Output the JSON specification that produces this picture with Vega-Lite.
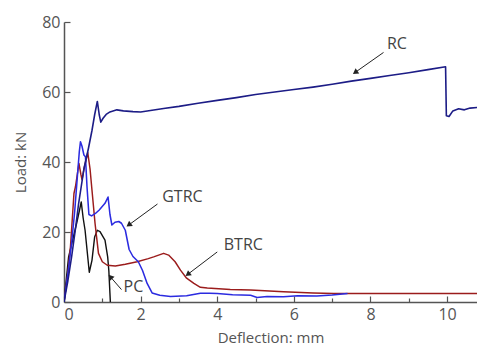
{
  "$schema": "https://vega.github.io/schema/vega-lite/v6.json",
  "width": 413,
  "height": 280,
  "autosize": "none",
  "padding": {"left": 64, "top": 22, "right": 0, "bottom": 48},
  "background": "white",
  "config": {
    "view": {"stroke": null},
    "font": "Open Sans",
    "axis": {
      "labelFont": "Open Sans",
      "titleFont": "Open Sans",
      "labelFontSize": 16,
      "titleFontSize": 15,
      "titleFontWeight": "normal",
      "labelColor": "#555555",
      "titleColor": "#555555",
      "domainColor": "#555555",
      "tickColor": "#555555",
      "domainWidth": 1.5,
      "tickWidth": 1.2,
      "grid": false
    }
  },
  "datasets": {
    "curves": [
      {"series": "PC", "x": 0, "y": 0},
      {"series": "PC", "x": 0.12, "y": 12.9},
      {"series": "PC", "x": 0.33, "y": 22.5},
      {"series": "PC", "x": 0.4, "y": 26},
      {"series": "PC", "x": 0.45, "y": 28.6},
      {"series": "PC", "x": 0.5, "y": 24},
      {"series": "PC", "x": 0.55, "y": 20.5},
      {"series": "PC", "x": 0.66, "y": 8.5},
      {"series": "PC", "x": 0.73, "y": 11.9},
      {"series": "PC", "x": 0.8, "y": 18.6},
      {"series": "PC", "x": 0.87, "y": 20.5},
      {"series": "PC", "x": 0.94, "y": 20.1},
      {"series": "PC", "x": 1.07, "y": 17.7},
      {"series": "PC", "x": 1.14, "y": 12.9},
      {"series": "PC", "x": 1.17, "y": 9},
      {"series": "PC", "x": 1.21, "y": 0},

      {"series": "BTRC", "x": 0, "y": 0},
      {"series": "BTRC", "x": 0.1, "y": 8},
      {"series": "BTRC", "x": 0.17, "y": 16},
      {"series": "BTRC", "x": 0.26, "y": 31},
      {"series": "BTRC", "x": 0.3, "y": 33},
      {"series": "BTRC", "x": 0.39, "y": 39.6},
      {"series": "BTRC", "x": 0.44, "y": 36.5},
      {"series": "BTRC", "x": 0.47, "y": 35},
      {"series": "BTRC", "x": 0.53, "y": 38.5},
      {"series": "BTRC", "x": 0.62, "y": 42.7},
      {"series": "BTRC", "x": 0.68, "y": 38},
      {"series": "BTRC", "x": 0.73, "y": 32},
      {"series": "BTRC", "x": 0.81, "y": 22.5},
      {"series": "BTRC", "x": 0.9, "y": 13.9},
      {"series": "BTRC", "x": 1.0, "y": 11.5},
      {"series": "BTRC", "x": 1.13, "y": 10.5},
      {"series": "BTRC", "x": 1.34, "y": 10.3},
      {"series": "BTRC", "x": 1.6, "y": 10.8},
      {"series": "BTRC", "x": 1.91, "y": 11.5},
      {"series": "BTRC", "x": 2.2, "y": 12.4},
      {"series": "BTRC", "x": 2.34, "y": 12.9},
      {"series": "BTRC", "x": 2.6, "y": 13.9},
      {"series": "BTRC", "x": 2.73, "y": 13.4},
      {"series": "BTRC", "x": 2.9, "y": 11.5},
      {"series": "BTRC", "x": 3.04, "y": 9.1},
      {"series": "BTRC", "x": 3.2, "y": 6.8},
      {"series": "BTRC", "x": 3.39, "y": 5.3},
      {"series": "BTRC", "x": 3.56, "y": 4.2},
      {"series": "BTRC", "x": 3.74, "y": 4.0},
      {"series": "BTRC", "x": 4.34, "y": 3.6},
      {"series": "BTRC", "x": 4.87, "y": 3.4},
      {"series": "BTRC", "x": 5.73, "y": 2.9},
      {"series": "BTRC", "x": 6.5, "y": 2.6},
      {"series": "BTRC", "x": 7.04, "y": 2.4},
      {"series": "BTRC", "x": 8.34, "y": 2.4},
      {"series": "BTRC", "x": 9.5, "y": 2.4},
      {"series": "BTRC", "x": 10.8, "y": 2.4},

      {"series": "GTRC", "x": 0, "y": 0},
      {"series": "GTRC", "x": 0.1, "y": 8},
      {"series": "GTRC", "x": 0.2, "y": 17},
      {"series": "GTRC", "x": 0.28, "y": 26},
      {"series": "GTRC", "x": 0.35, "y": 36},
      {"series": "GTRC", "x": 0.4, "y": 43},
      {"series": "GTRC", "x": 0.43, "y": 45.8},
      {"series": "GTRC", "x": 0.47, "y": 44.5},
      {"series": "GTRC", "x": 0.52, "y": 42},
      {"series": "GTRC", "x": 0.56, "y": 41.5},
      {"series": "GTRC", "x": 0.6, "y": 33},
      {"series": "GTRC", "x": 0.65, "y": 25},
      {"series": "GTRC", "x": 0.72, "y": 24.6},
      {"series": "GTRC", "x": 0.82, "y": 25.3},
      {"series": "GTRC", "x": 0.92, "y": 26.3},
      {"series": "GTRC", "x": 1.07, "y": 28.2},
      {"series": "GTRC", "x": 1.15, "y": 30},
      {"series": "GTRC", "x": 1.2, "y": 25},
      {"series": "GTRC", "x": 1.25, "y": 22},
      {"series": "GTRC", "x": 1.33, "y": 22.8},
      {"series": "GTRC", "x": 1.43, "y": 23},
      {"series": "GTRC", "x": 1.5, "y": 22.5},
      {"series": "GTRC", "x": 1.6, "y": 20.5},
      {"series": "GTRC", "x": 1.7, "y": 15},
      {"series": "GTRC", "x": 1.8, "y": 13},
      {"series": "GTRC", "x": 1.94, "y": 11.5},
      {"series": "GTRC", "x": 2.05, "y": 9},
      {"series": "GTRC", "x": 2.17, "y": 5.3},
      {"series": "GTRC", "x": 2.3, "y": 2.6},
      {"series": "GTRC", "x": 2.5, "y": 1.9},
      {"series": "GTRC", "x": 2.78, "y": 1.6},
      {"series": "GTRC", "x": 3.2, "y": 1.8},
      {"series": "GTRC", "x": 3.56, "y": 2.5},
      {"series": "GTRC", "x": 3.8, "y": 2.5},
      {"series": "GTRC", "x": 4.0, "y": 2.4},
      {"series": "GTRC", "x": 4.4, "y": 2.1},
      {"series": "GTRC", "x": 4.87, "y": 1.9},
      {"series": "GTRC", "x": 5.04, "y": 1.3},
      {"series": "GTRC", "x": 5.3, "y": 1.6},
      {"series": "GTRC", "x": 5.73, "y": 1.5},
      {"series": "GTRC", "x": 6.1, "y": 1.8},
      {"series": "GTRC", "x": 6.6, "y": 1.7},
      {"series": "GTRC", "x": 7.0, "y": 2.0},
      {"series": "GTRC", "x": 7.4, "y": 2.4},

      {"series": "RC", "x": 0, "y": 0},
      {"series": "RC", "x": 0.1, "y": 6},
      {"series": "RC", "x": 0.2, "y": 13},
      {"series": "RC", "x": 0.3, "y": 21},
      {"series": "RC", "x": 0.38, "y": 28},
      {"series": "RC", "x": 0.45, "y": 33},
      {"series": "RC", "x": 0.52, "y": 38},
      {"series": "RC", "x": 0.64, "y": 44},
      {"series": "RC", "x": 0.73, "y": 49},
      {"series": "RC", "x": 0.8, "y": 53.5},
      {"series": "RC", "x": 0.87, "y": 57.3},
      {"series": "RC", "x": 0.92, "y": 53.5},
      {"series": "RC", "x": 0.96, "y": 51.4},
      {"series": "RC", "x": 1.02, "y": 52.5},
      {"series": "RC", "x": 1.1, "y": 53.6},
      {"series": "RC", "x": 1.2, "y": 54.3},
      {"series": "RC", "x": 1.38, "y": 54.9},
      {"series": "RC", "x": 1.55, "y": 54.6},
      {"series": "RC", "x": 1.8, "y": 54.4},
      {"series": "RC", "x": 2.0, "y": 54.3},
      {"series": "RC", "x": 2.3, "y": 54.8},
      {"series": "RC", "x": 2.6, "y": 55.3},
      {"series": "RC", "x": 3.0, "y": 55.9},
      {"series": "RC", "x": 3.5, "y": 56.8},
      {"series": "RC", "x": 4.0, "y": 57.6},
      {"series": "RC", "x": 4.5, "y": 58.4},
      {"series": "RC", "x": 5.0, "y": 59.3},
      {"series": "RC", "x": 5.5, "y": 60.0},
      {"series": "RC", "x": 6.0, "y": 60.7},
      {"series": "RC", "x": 6.5, "y": 61.4},
      {"series": "RC", "x": 7.0, "y": 62.2},
      {"series": "RC", "x": 7.5, "y": 63.1},
      {"series": "RC", "x": 8.0, "y": 63.9},
      {"series": "RC", "x": 8.5, "y": 64.7},
      {"series": "RC", "x": 9.0, "y": 65.5},
      {"series": "RC", "x": 9.5, "y": 66.4},
      {"series": "RC", "x": 9.96, "y": 67.2},
      {"series": "RC", "x": 9.98, "y": 53.2},
      {"series": "RC", "x": 10.05, "y": 53.0},
      {"series": "RC", "x": 10.15, "y": 54.6},
      {"series": "RC", "x": 10.3, "y": 55.2},
      {"series": "RC", "x": 10.45, "y": 54.9},
      {"series": "RC", "x": 10.6, "y": 55.4},
      {"series": "RC", "x": 10.8, "y": 55.6}
    ],
    "ann": [
      {"label": "RC", "tx": 8.69, "ty": 73.6, "x1": 8.34, "y1": 71.3, "x2": 7.6, "y2": 65.6},
      {"label": "GTRC", "tx": 3.09, "ty": 30.1, "x1": 2.44, "y1": 28.0, "x2": 1.69, "y2": 22.0},
      {"label": "BTRC", "tx": 4.68, "ty": 16.2, "x1": 4.0, "y1": 14.3, "x2": 3.23, "y2": 7.9},
      {"label": "PC", "tx": 1.81, "ty": 4.2, "x1": 1.5, "y1": 3.55, "x2": 1.21, "y2": 7.2}
    ]
  },
  "layer": [
    {
      "data": {"name": "curves"},
      "mark": {"type": "line", "clip": true, "strokeJoin": "round"},
      "encoding": {
        "x": {
          "field": "x", "type": "quantitative",
          "scale": {"domain": [0, 10.78], "nice": false, "zero": false},
          "axis": {
            "title": "Deflection: mm",
            "values": [0, 1, 2, 3, 4, 5, 6, 7, 8, 9, 10],
            "labelExpr": "datum.value % 2 === 0 ? datum.label : ''",
            "tickSize": {"condition": {"test": "datum.value % 2 === 0", "value": -6}, "value": -4},
            "labelPadding": 10,
            "titlePadding": 8
          }
        },
        "y": {
          "field": "y", "type": "quantitative",
          "scale": {"domain": [0, 80], "nice": false},
          "axis": {
            "title": "Load: kN",
            "values": [0, 10, 20, 30, 40, 50, 60, 70, 80],
            "labelExpr": "datum.value % 20 === 0 ? datum.label : ''",
            "tickSize": {"condition": {"test": "datum.value % 20 === 0", "value": -6}, "value": -4},
            "labelPadding": 10,
            "titlePadding": 13
          }
        },
        "color": {
          "field": "series", "type": "nominal",
          "scale": {"domain": ["PC", "BTRC", "GTRC", "RC"], "range": ["#111111", "#9b1c1c", "#2b2be0", "#1c1c86"]},
          "legend": null
        },
        "strokeWidth": {
          "field": "series", "type": "nominal",
          "scale": {"domain": ["PC", "BTRC", "GTRC", "RC"], "range": [1.4, 1.6, 1.6, 2.2]},
          "legend": null
        },
        "order": {"field": "x", "type": "quantitative"}
      }
    },
    {
      "data": {"name": "ann"},
      "mark": {"type": "rule", "color": "#222222", "strokeWidth": 1},
      "encoding": {
        "x": {"field": "x1", "type": "quantitative"},
        "y": {"field": "y1", "type": "quantitative"},
        "x2": {"field": "x2"},
        "y2": {"field": "y2"}
      }
    },
    {
      "data": {"name": "ann"},
      "mark": {"type": "text", "font": "Open Sans", "fontSize": 16, "color": "#444444", "align": "center", "baseline": "middle"},
      "encoding": {
        "x": {"field": "tx", "type": "quantitative"},
        "y": {"field": "ty", "type": "quantitative"},
        "text": {"field": "label"}
      }
    },
    {
      "data": {"name": "ann"},
      "transform": [{"filter": "datum.label === 'RC'"}],
      "mark": {"type": "point", "shape": "triangle-up", "filled": true, "color": "#222222", "size": 40, "angle": 234.5, "opacity": 1},
      "encoding": {"x": {"field": "x2", "type": "quantitative"}, "y": {"field": "y2", "type": "quantitative"}}
    },
    {
      "data": {"name": "ann"},
      "transform": [{"filter": "datum.label === 'GTRC'"}],
      "mark": {"type": "point", "shape": "triangle-up", "filled": true, "color": "#222222", "size": 40, "angle": 233.8, "opacity": 1},
      "encoding": {"x": {"field": "x2", "type": "quantitative"}, "y": {"field": "y2", "type": "quantitative"}}
    },
    {
      "data": {"name": "ann"},
      "transform": [{"filter": "datum.label === 'BTRC'"}],
      "mark": {"type": "point", "shape": "triangle-up", "filled": true, "color": "#222222", "size": 40, "angle": 232.8, "opacity": 1},
      "encoding": {"x": {"field": "x2", "type": "quantitative"}, "y": {"field": "y2", "type": "quantitative"}}
    },
    {
      "data": {"name": "ann"},
      "transform": [{"filter": "datum.label === 'PC'"}],
      "mark": {"type": "point", "shape": "triangle-up", "filled": true, "color": "#222222", "size": 40, "angle": 318.8, "opacity": 1},
      "encoding": {"x": {"field": "x2", "type": "quantitative"}, "y": {"field": "y2", "type": "quantitative"}}
    }
  ]
}
